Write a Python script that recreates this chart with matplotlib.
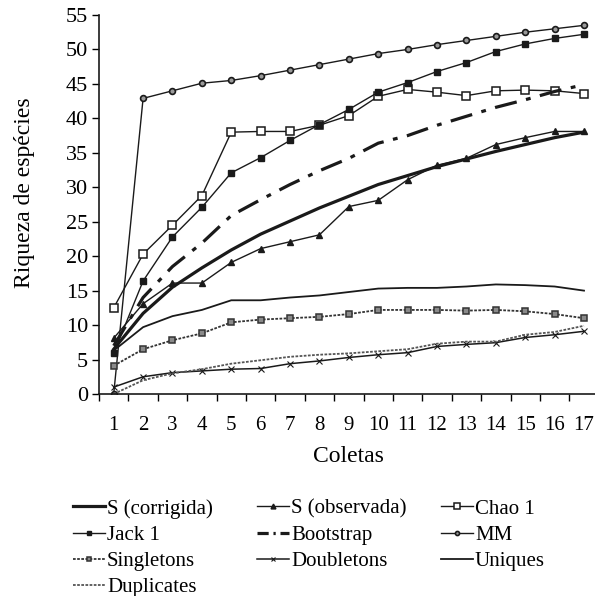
import numpy as np
import matplotlib
matplotlib.use("Agg")
import matplotlib.pyplot as plt

plt.rcParams['font.family'] = ['Liberation Serif', 'DejaVu Serif']

# Dados
coletas = np.arange(1, 18)
s_corrigida = [6.5, 11.7, 15.5, 18.3, 20.9, 23.2, 25.1, 27.0, 28.7, 30.4, 31.7, 33.0, 34.1, 35.2, 36.2, 37.2, 38.0]
s_observada = [8.1, 13.1, 16.1, 16.1, 19.1, 21.1, 22.1, 23.1, 27.2, 28.1, 31.1, 33.2, 34.2, 36.2, 37.2, 38.1, 38.1]
chao1 = [12.5, 20.3, 24.5, 28.8, 38.0, 38.1, 38.1, 39.0, 40.4, 43.2, 44.2, 43.8, 43.3, 44.0, 44.1, 44.0, 43.6]
jack1 = [5.9, 16.4, 22.8, 27.1, 32.1, 34.3, 36.8, 39.1, 41.3, 43.8, 45.2, 46.8, 48.1, 49.7, 50.8, 51.6, 52.2]
bootstrap = [7.0, 14.0, 18.5, 21.9, 25.9, 28.2, 30.4, 32.4, 34.2, 36.4, 37.5, 39.0, 40.3, 41.6, 42.7, 43.9, 44.9]
mm = [0.0, 42.9, 44.0, 45.1, 45.5, 46.2, 47.0, 47.8, 48.6, 49.4, 50.0, 50.7, 51.3, 51.9, 52.5, 53.0, 53.5]
singletons = [4.1, 6.5, 7.8, 8.8, 10.4, 10.8, 11.0, 11.2, 11.6, 12.2, 12.2, 12.2, 12.1, 12.2, 12.0, 11.6, 11.0]
doubletons = [1.0, 2.5, 3.1, 3.35, 3.6, 3.7, 4.4, 4.8, 5.3, 5.7, 6.0, 6.9, 7.2, 7.45, 8.2, 8.6, 9.1]
uniques = [6.3, 9.7, 11.3, 12.2, 13.6, 13.6, 14.0, 14.3, 14.8, 15.3, 15.4, 15.4, 15.6, 15.9, 15.8, 15.6, 15.0]
duplicates = [0.0, 2.0, 3.0, 3.6, 4.4, 4.9, 5.4, 5.7, 5.9, 6.2, 6.5, 7.3, 7.6, 7.6, 8.6, 9.0, 9.9]

fig = plt.figure(figsize=(5.95, 5.96), dpi=100)
ax = fig.add_axes([99 / 595, 1 - 394 / 596, 499.7 / 595, 379 / 596])

k = '#1a1a1a'
h = {}
h['S (corrigida)'], = ax.plot(coletas, s_corrigida, color=k, lw=2.3)
h['S (observada)'], = ax.plot(coletas, s_observada, color=k, lw=1, marker='^', ms=5)
h['Chao 1'], = ax.plot(coletas, chao1, color=k, lw=1, marker='s', ms=5.5, mfc='white', mec=k, mew=1.1)
h['Jack 1'], = ax.plot(coletas, jack1, color=k, lw=1, marker='s', ms=5)
h['Bootstrap'], = ax.plot(coletas, bootstrap, color=k, lw=2.3, dashes=(7, 3, 1.5, 3))
h['MM'], = ax.plot(coletas, mm, color=k, lw=1, marker='o', ms=4.2, mfc='#9a9a9a', mec=k, mew=1.2)
h['Singletons'], = ax.plot(coletas, singletons, color='#333333', lw=1.3, ls=(0, (1.5, 0.8)),
                           marker='s', ms=4.5, mfc='#8a8a8a', mec='#333333', mew=1.1)
h['Doubletons'], = ax.plot(coletas, doubletons, color=k, lw=1.1, marker='x', ms=4, mew=0.8)
h['Uniques'], = ax.plot(coletas, uniques, color=k, lw=1.3)
h['Duplicates'], = ax.plot(coletas, duplicates, color='#555555', lw=1.3, ls=(0, (1.5, 0.8)))

ax.set_xlim(0.5, 17.5)
ax.set_ylim(0, 55)
ax.set_yticks(np.arange(0, 56, 5))
ax.set_xticks(coletas)
ax.set_xticks(np.arange(0.5, 17.6, 1), minor=True)
ax.tick_params(axis='x', which='major', length=0, pad=16, labelsize=15)
ax.tick_params(axis='x', which='minor', length=5, width=1, direction='out')
ax.tick_params(axis='y', length=5, width=1, direction='out', pad=3, labelsize=16)
for s in ['top', 'right']:
    ax.spines[s].set_visible(False)
for s in ['left', 'bottom']:
    ax.spines[s].set_linewidth(1.2)
    ax.spines[s].set_color(k)

ax.set_xlabel('Coletas', fontsize=17)
ax.set_ylabel('Riqueza de espécies', fontsize=17)
ax.xaxis.set_label_coords(0.5, -0.136)
ax.yaxis.set_label_coords(-0.128, 0.532)

# legenda: uma coluna de cada vez para acertar as posições
colunas = [['S (corrigida)', 'Jack 1', 'Singletons', 'Duplicates'],
           ['S (observada)', 'Bootstrap', 'Doubletons'],
           ['Chao 1', 'MM', 'Uniques']]
x_col = [73, 257, 441]
for nomes, xc in zip(colunas, x_col):
    leg = fig.legend([h[n] for n in nomes], nomes, loc='upper left',
                     bbox_to_anchor=(xc / 595, 1 - 499 / 596), frameon=False,
                     fontsize=15, handlelength=1.55, handletextpad=0.08,
                     labelspacing=0.32, borderpad=0, borderaxespad=0,
                     markerscale=0.7)
    if 'Bootstrap' in nomes:
        # traço curto para o ponto aparecer na legenda
        leg.get_lines()[nomes.index('Bootstrap')].set_dashes((3.5, 1.5, 0.7, 1.5))

fig.savefig('out.png', dpi=100)
